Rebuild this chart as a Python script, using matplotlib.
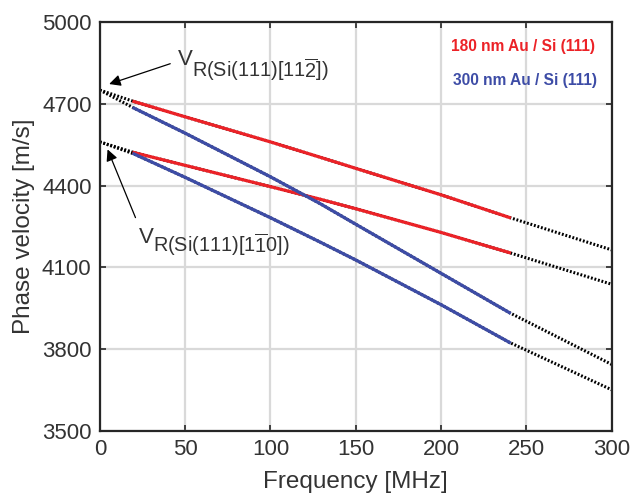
import matplotlib
matplotlib.use("Agg")
import matplotlib.pyplot as plt

plt.rcParams['font.family'] = ['Liberation Sans', 'DejaVu Sans']
plt.rcParams['mathtext.fontset'] = 'custom'
plt.rcParams['mathtext.rm'] = 'Liberation Sans'
plt.rcParams['mathtext.it'] = 'Liberation Sans'

# measured curves (MHz, m/s)
freq = [20, 50, 100, 129, 150, 200, 240]
red_112 = [4708, 4652, 4560, 4504, 4463, 4366, 4283]
red_110 = [4521, 4474, 4396, 4350, 4315, 4228, 4154]
blue_112 = [4684, 4592, 4432, 4334, 4258, 4078, 3934]
blue_110 = [4516, 4430, 4282, 4193, 4127, 3963, 3825]

# calculated curves (dotted)
freq_calc = [0, 20, 50, 100, 129, 150, 200, 240, 300]
calc_red_112 = [4750] + red_112 + [4164]
calc_red_110 = [4560] + red_110 + [4038]
calc_blue_112 = [4750] + blue_112 + [3744]
calc_blue_110 = [4560] + blue_110 + [3651]

red = '#ec2227'
blue = '#3d4ca6'
txt = '#333333'

fig = plt.figure(figsize=(6.32, 4.98), dpi=100)
ax = fig.add_axes([0.158, 0.1345, 0.810, 0.8215])

for c in [calc_red_112, calc_red_110, calc_blue_112, calc_blue_110]:
    ax.plot(freq_calc, c, color='black', lw=2.2, ls=(0, (0.6, 0.6)), zorder=2)

ax.plot(freq, red_112, color=red, lw=2.3, zorder=3)
ax.plot(freq, red_110, color=red, lw=2.3, zorder=3)
ax.plot(freq, blue_112, color=blue, lw=2.3, zorder=3)
ax.plot(freq, blue_110, color=blue, lw=2.3, zorder=3)

ax.set_xlim(0, 300)
ax.set_ylim(3500, 5000)
ax.set_xticks(range(0, 301, 50))
ax.set_yticks(range(3500, 5001, 300))
ax.grid(True, color='#d9d9d9', lw=1.6)
ax.set_axisbelow(True)
for s in ax.spines.values():
    s.set_color('#262626')
    s.set_linewidth(1.6)
ax.tick_params(direction='in', length=4, width=1.2, colors='#262626',
               labelcolor=txt, labelsize=16, top=True, right=True, pad=6)
ax.set_xlabel('Frequency [MHz]', fontsize=17.5, color=txt, labelpad=8)
ax.set_ylabel('Phase velocity [m/s]', fontsize=17.5, color=txt, labelpad=5)

ax.text(0.967, 0.939, '180 nm Au / Si (111)', transform=ax.transAxes,
        ha='right', va='center', fontsize=11.2, fontweight='bold', color=red)
ax.text(0.971, 0.858, '300 nm Au / Si (111)', transform=ax.transAxes,
        ha='right', va='center', fontsize=11.2, fontweight='bold', color=blue)

# annotations
ax.annotate('', xy=(3.9, 4769), xytext=(42.8, 4850),
            arrowprops=dict(arrowstyle='-|>', color='black', lw=0.9,
                            mutation_scale=17))
ax.annotate('', xy=(3.9, 4542), xytext=(21.5, 4273),
            arrowprops=dict(arrowstyle='-|>', color='black', lw=0.9,
                            mutation_scale=17))
ax.text(45.5, 4842, 'V', fontsize=16, color=txt, va='baseline')
ax.text(54.0, 4798, r'R(Si(111)[11$\overline{\mathrm{2}}$])', fontsize=14.3,
        color=txt, va='baseline')
ax.text(22.8, 4188, 'V', fontsize=16, color=txt, va='baseline')
ax.text(31.2, 4155, r'R(Si(111)[1$\overline{\mathrm{1}}$0])', fontsize=14.3,
        color=txt, va='baseline')

fig.savefig('out.png', dpi=100)
plt.close(fig)
